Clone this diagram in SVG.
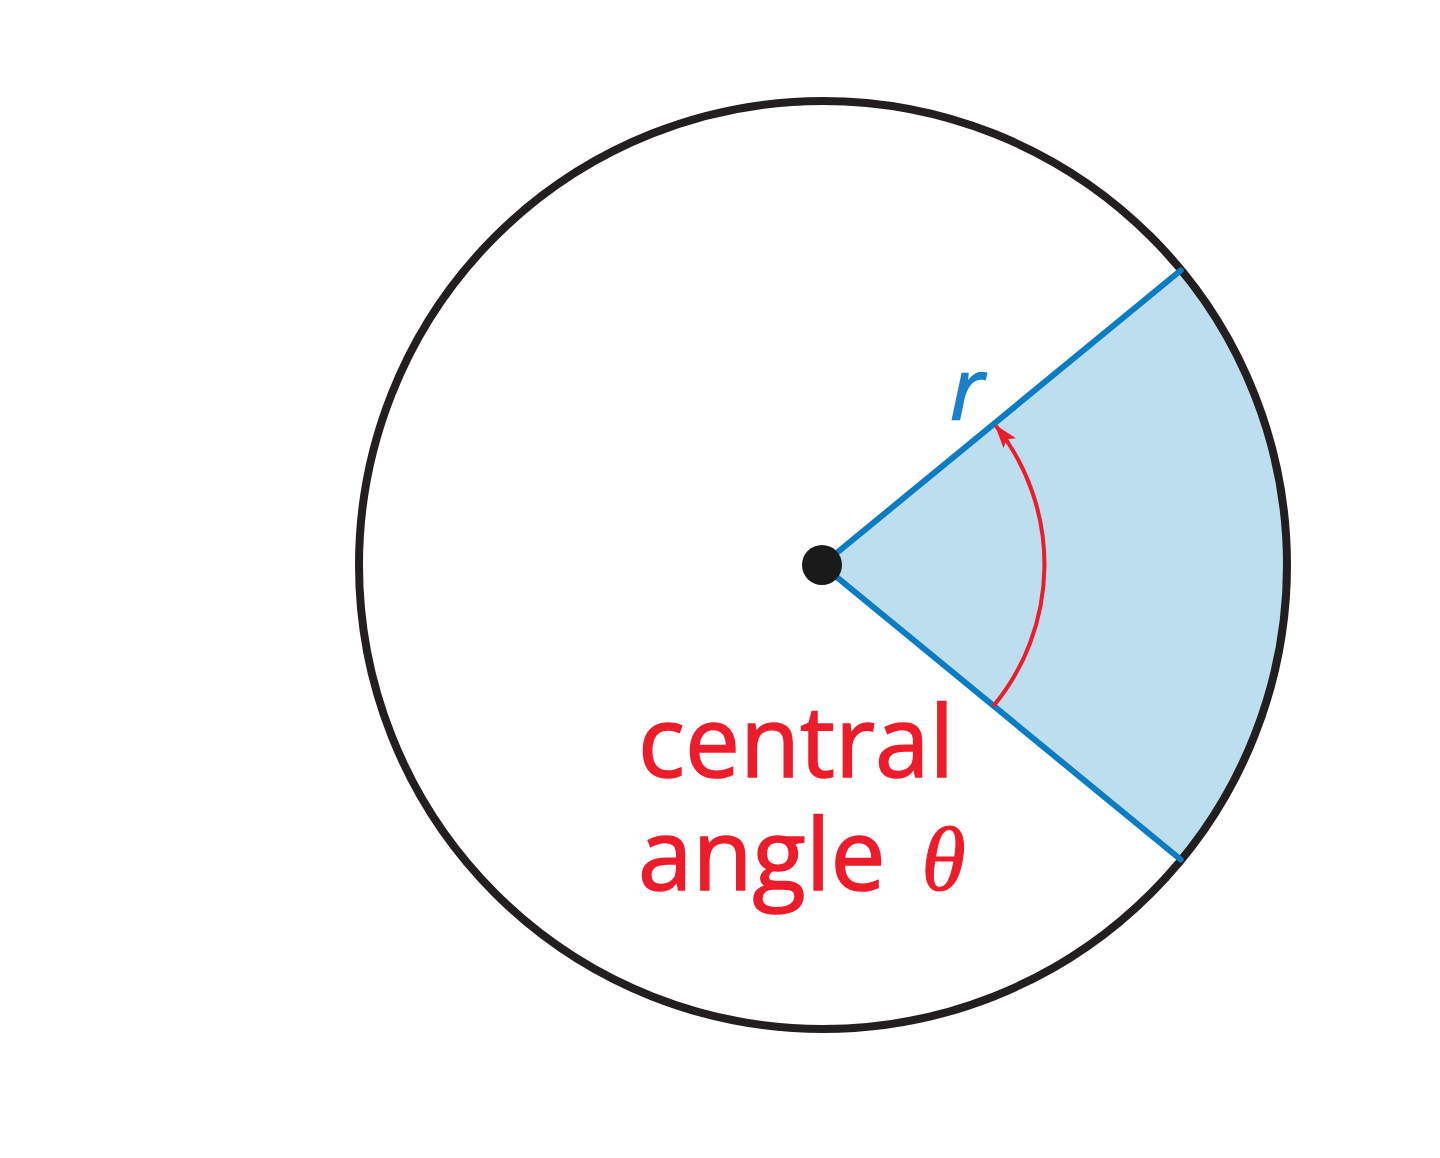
<svg xmlns="http://www.w3.org/2000/svg" width="1440" height="1158" viewBox="0 0 1440 1158">
<defs>
<style>
.lbl{font-family:"Open Sans","Noto Sans",sans-serif;fill:#EC1C2B;font-size:98px;stroke:#EC1C2B;stroke-width:1.5}
.theta{font-family:"Liberation Serif",serif;font-style:italic;fill:#EC1C2B;font-size:90px;stroke-width:1}
.rl{font-family:"Open Sans","Noto Sans",sans-serif;font-style:italic;fill:#1A80CC;font-size:86px;stroke:#1A80CC;stroke-width:1.5}
.radius{stroke:#0A7CC4;stroke-width:6;fill:none;stroke-linecap:round}
</style>
<marker id="arr" viewBox="0 0 24 16" refX="22" refY="8" markerWidth="24" markerHeight="16" markerUnits="userSpaceOnUse" orient="auto">
<path d="M0,0 L24,8 L0,16 L5,8 Z" fill="#EC1C2B"/>
</marker>
</defs>
<rect width="1440" height="1158" fill="#ffffff"/>
<g id="sector">
<path d="M822,565 L1180.6,270.5 A464,464 0 0 1 1180.6,859.5 Z" fill="#BDDEEE"/>
</g>
<g id="circle">
<circle cx="823" cy="565" r="464" fill="none" stroke="#231F20" stroke-width="8"/>
</g>
<g id="connectors">
<line class="radius" x1="822" y1="565" x2="1180.6" y2="270.5"/>
<line class="radius" x1="822" y1="565" x2="1180.6" y2="859.5"/>
<path d="M993.3,706.2 A222,222 0 0 0 996,426" fill="none" stroke="#EC1C2B" stroke-width="4" marker-end="url(#arr)"/>
</g>
<g id="center">
<circle cx="822" cy="565" r="20" fill="#1a1a1a"/>
</g>
<g id="labels">
<text class="rl" x="950" y="420">r</text>
<text class="lbl" x="638" y="777">central</text>
<text class="lbl" x="638" y="890">angle<tspan class="theta" dx="36">θ</tspan></text>
</g>
</svg>
